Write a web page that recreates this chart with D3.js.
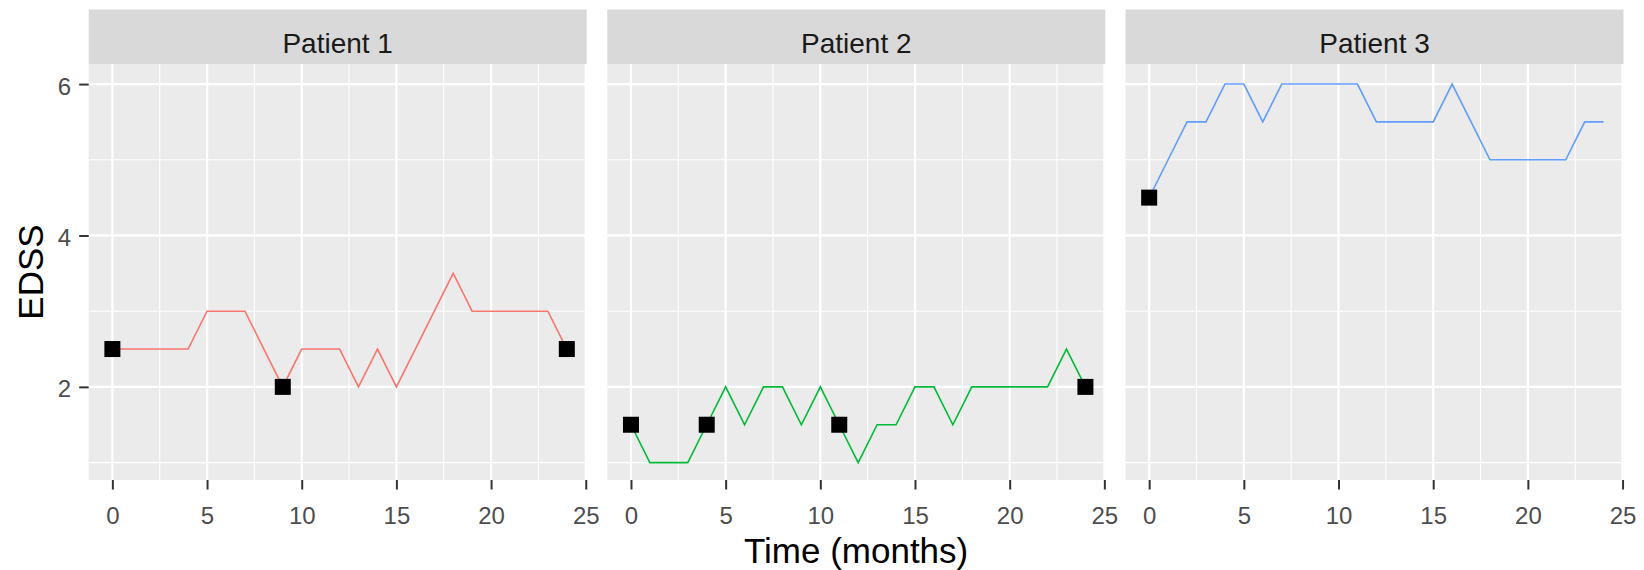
<!DOCTYPE html>
<html>
<head>
<meta charset="utf-8">
<script src="https://cdn.jsdelivr.net/npm/d3@7"></script>
<style>
  html, body { margin: 0; padding: 0; background: #fff; }
  svg { display: block; font-family: "Liberation Sans", Arial, sans-serif; }
</style>
</head>
<body>
<svg id="chart" width="1644" height="570"></svg>
<script>
// Monthly EDSS scores per patient, months 0..24
const months = [0,1,2,3,4,5,6,7,8,9,10,11,12,13,14,15,16,17,18,19,20,21,22,23,24];
const patientNames = ["Patient 1", "Patient 2", "Patient 3"];
const edss1 = [2.5,2.5,2.5,2.5,2.5,3,3,3,2.5,2,2.5,2.5,2.5,2,2.5,2,2.5,3,3.5,3,3,3,3,3,2.5];
const edss2 = [1.5,1,1,1,1.5,2,1.5,2,2,1.5,2,1.5,1,1.5,1.5,2,2,1.5,2,2,2,2,2,2.5,2];
const edss3 = [4.5,5,5.5,5.5,6,6,5.5,6,6,6,6,6,5.5,5.5,5.5,5.5,6,5.5,5,5,5,5,5,5.5,5.5];
const lineColours = ["#F8766D", "#00BA38", "#619CFF"];
// Clinic visit months (marked with black squares)
const visits1 = [0, 9, 24];
const visits2 = [0, 4, 11, 24];
const visits3 = [0];

const xTicks = [0, 5, 10, 15, 20, 25];
const xMinor = [2.5, 7.5, 12.5, 17.5, 22.5];
const yTicks = [2, 4, 6];
const yMinor = [1, 3, 5];

const series = [edss1, edss2, edss3];
const visits = [visits1, visits2, visits3];

const svg = d3.select("#chart");

const panelLefts = [88.7, 607.3, 1125.5];
const panelWidth = 498;
const stripTop = 9.5, stripBottom = 64, panelBottom = 480;

const y = d3.scaleLinear().domain([0.77, 6.265]).range([panelBottom, stripBottom]);

patientNames.forEach((name, i) => {
  const left = panelLefts[i];
  const x = d3.scaleLinear().domain([-1.25, 25.05]).range([left, left + panelWidth]);
  const g = svg.append("g");

  // strip
  g.append("rect").attr("x", left).attr("y", stripTop)
    .attr("width", panelWidth).attr("height", stripBottom - stripTop)
    .attr("fill", "#D9D9D9");
  g.append("text").attr("x", left + panelWidth / 2).attr("y", 52.5)
    .attr("text-anchor", "middle").attr("font-size", 28).attr("fill", "#1A1A1A")
    .text(name);

  // panel background
  g.append("rect").attr("x", left).attr("y", stripBottom)
    .attr("width", panelWidth).attr("height", panelBottom - stripBottom)
    .attr("fill", "#EBEBEB");

  // minor grid
  g.selectAll(".ymin").data(yMinor).enter().append("line")
    .attr("x1", left).attr("x2", left + panelWidth)
    .attr("y1", d => y(d)).attr("y2", d => y(d))
    .attr("stroke", "#fff").attr("stroke-width", 1.1);
  g.selectAll(".xmin").data(xMinor).enter().append("line")
    .attr("y1", stripBottom).attr("y2", panelBottom)
    .attr("x1", d => x(d)).attr("x2", d => x(d))
    .attr("stroke", "#fff").attr("stroke-width", 1.1);
  // major grid
  g.selectAll(".ymaj").data(yTicks).enter().append("line")
    .attr("x1", left).attr("x2", left + panelWidth)
    .attr("y1", d => y(d)).attr("y2", d => y(d))
    .attr("stroke", "#fff").attr("stroke-width", 2.2);
  g.selectAll(".xmaj").data(xTicks).enter().append("line")
    .attr("y1", stripBottom).attr("y2", panelBottom)
    .attr("x1", d => x(d)).attr("x2", d => x(d))
    .attr("stroke", "#fff").attr("stroke-width", 2.2);

  // x axis
  const xAxis = d3.axisBottom(x).tickValues(xTicks).tickFormat(d3.format("d"))
    .tickSize(9.5).tickPadding(17);
  const xa = g.append("g").attr("transform", `translate(0,${panelBottom})`).call(xAxis);
  xa.select(".domain").remove();
  xa.selectAll(".tick line").attr("stroke", "#333333").attr("stroke-width", 2);
  xa.selectAll(".tick text").attr("font-size", 24).attr("fill", "#4D4D4D")
    .attr("font-family", "Liberation Sans, Arial, sans-serif");

  // y axis on first panel only
  if (i === 0) {
    const yAxis = d3.axisLeft(y).tickValues(yTicks).tickFormat(d3.format("d"))
      .tickSize(9.5).tickPadding(8);
    const ya = g.append("g").attr("transform", `translate(${left},0)`).call(yAxis);
    ya.select(".domain").remove();
    ya.selectAll(".tick line").attr("stroke", "#333333").attr("stroke-width", 2);
    ya.selectAll(".tick text").attr("font-size", 24).attr("fill", "#4D4D4D")
      .attr("dy", "0.42em")
      .attr("font-family", "Liberation Sans, Arial, sans-serif");
  }

  // EDSS trajectory
  const line = d3.line().x((d, k) => x(months[k])).y(d => y(d));
  g.append("path").datum(series[i]).attr("d", line)
    .attr("fill", "none").attr("stroke", lineColours[i]).attr("stroke-width", 1.6);

  // visit markers
  const sq = 16;
  g.selectAll(".visit").data(visits[i]).enter().append("rect")
    .attr("x", d => x(d) - sq / 2)
    .attr("y", d => y(series[i][months.indexOf(d)]) - sq / 2)
    .attr("width", sq).attr("height", sq).attr("fill", "#000");
});

// axis titles
svg.append("text").attr("x", (panelLefts[0] + panelLefts[2] + panelWidth) / 2).attr("y", 563)
  .attr("text-anchor", "middle").attr("font-size", 35).attr("fill", "#000")
  .text("Time (months)");
svg.append("text").attr("transform", `translate(43.3,${(stripBottom + panelBottom) / 2}) rotate(-90)`)
  .attr("text-anchor", "middle").attr("font-size", 35).attr("fill", "#000")
  .text("EDSS");
</script>
</body>
</html>
